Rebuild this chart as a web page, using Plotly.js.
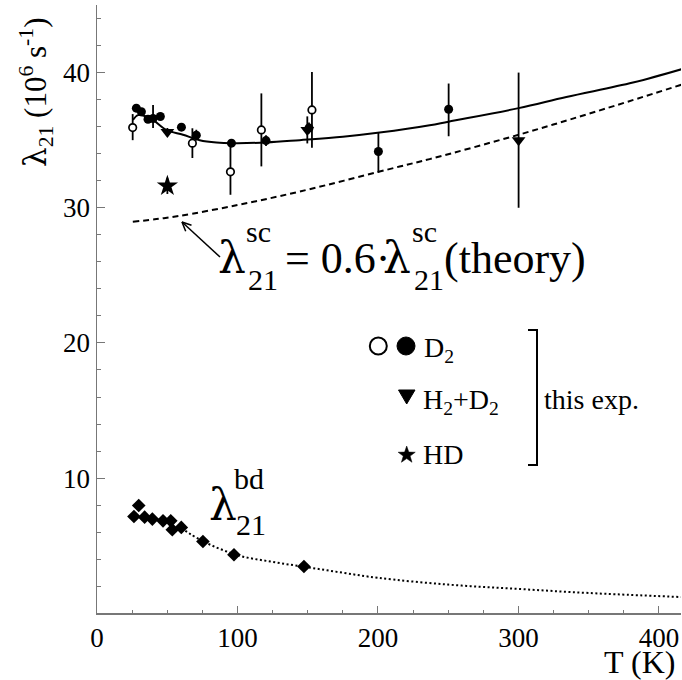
<!DOCTYPE html>
<html><head><meta charset="utf-8">
<script src="https://cdn.plot.ly/plotly-3.0.1.min.js"></script>
<style>html,body{margin:0;padding:0;background:#fff}</style>
</head><body>
<div id="chart" style="width:682px;height:680px"></div>
<script>
// ---- data ----
const d2OpenT   = [25.4, 67.9, 95.0, 117.0, 153.0];
const d2OpenL   = [35.93, 34.78, 32.66, 35.76, 37.24];
const d2OpenEp  = [1.0, 1.1, 2.1, 2.7, 2.8];
const d2OpenEm  = [0.93, 1.1, 1.7, 2.7, 2.8];

const d2FullT   = [28.0, 31.6, 36.3, 39.9, 45.1, 60.1, 70.7, 95.7, 120.3, 150.9, 200.3, 250.3];
const d2FullL   = [37.37, 37.1, 36.55, 36.6, 36.75, 35.96, 35.37, 34.78, 34.97, 35.9, 34.16, 37.29];
const d2FullEp  = [0.3, 0.2, 0.2, 1.0, 0.2, 0.2, 0.4, 0.2, 0.4, 0.4, 1.4, 1.9];
const d2FullEm  = [0.3, 0.2, 0.2, 0.7, 0.2, 0.2, 0.4, 0.2, 0.4, 0.4, 1.56, 2.0];

const h2d2T     = [50.1, 149.7, 300.1];
const h2d2L     = [35.6, 35.76, 35.0];
const h2d2E     = [0.3, 1.0, 5.0];

const hdT       = [50.1];
const hdL       = [31.62];
const hdE       = [0.6];

const bdT       = [26.3, 29.7, 33.9, 39.4, 47.0, 52.5, 53.6, 60.0, 75.4, 97.5, 147.3];
const bdL       = [7.16, 7.97, 7.11, 6.97, 6.84, 6.84, 6.18, 6.35, 5.31, 4.33, 3.46];

const fitT      = [25.6, 29.2, 35, 39.9, 49.4, 61.2, 73.1, 85.0, 96.8, 120.6, 144.3, 175, 201.2, 236.8, 250.1, 300.1, 334.1, 381.5, 416];
const fitL      = [36.5, 36.85, 36.75, 36.5, 35.76, 35.4, 35.0, 34.83, 34.78, 34.83, 35.0, 35.25, 35.56, 36.1, 36.37, 37.37, 38.2, 39.26, 40.25];

const scT       = [25.5, 42.3, 58.9, 100, 144.3, 215.4, 236.8, 300.1, 350, 416];
const scL       = [28.96, 29.16, 29.4, 30.2, 31.2, 33.05, 33.6, 35.4, 36.95, 39.1];

const bdLineT   = [60, 75, 100, 125, 150, 175, 200, 250, 300, 350, 416];
const bdLineL   = [6.3, 5.35, 4.3, 3.8, 3.4, 3.0, 2.62, 2.12, 1.8, 1.5, 1.2];

const xTickStep = 100, yTickStep = 10;

// ---- layout helpers (pixel -> paper) ----
const L = 97, R = 681, T0 = 5, B = 613;
const px = x => (x - L) / (R - L);
const py = y => (B - y) / (B - T0);
const FONT = 'Liberation Serif, Times New Roman, serif';
const GREEK = 'DejaVu Serif, Liberation Serif, serif';

function txt(text, x, y, size, xa, ya, angle, fam) {
  return {text: text, x: px(x), y: py(y), xref: 'paper', yref: 'paper',
    xanchor: xa || 'left', yanchor: ya || 'middle', showarrow: false,
    textangle: angle || 0, font: {family: fam || FONT, size: size, color: '#000'}};
}
function path(pts, close) {
  return pts.map((p, i) => (i ? 'L' : 'M') + px(p[0]) + ',' + py(p[1])).join(' ') + (close ? ' Z' : '');
}

const errStyle = {type: 'data', color: '#000', thickness: 1.8, width: 0, visible: true};

const traces = [
  {x: fitT, y: fitL, mode: 'lines', line: {color: '#000', width: 2, shape: 'spline'}, hoverinfo: 'skip'},
  {x: scT, y: scL, mode: 'lines', line: {color: '#000', width: 2, dash: '6px,4px', shape: 'spline'}, hoverinfo: 'skip'},
  {x: bdLineT, y: bdLineL, mode: 'lines', line: {color: '#000', width: 2, dash: '2px,2.5px', shape: 'spline'}, hoverinfo: 'skip'},
  {x: d2FullT, y: d2FullL, mode: 'markers', marker: {symbol: 'circle', size: 9, color: '#000'},
   error_y: Object.assign({array: d2FullEp, arrayminus: d2FullEm, symmetric: false}, errStyle)},
  {x: d2OpenT, y: d2OpenL, mode: 'markers', marker: {symbol: 'circle', size: 7.5, color: '#fff', line: {color: '#000', width: 1.7}},
   error_y: Object.assign({array: d2OpenEp, arrayminus: d2OpenEm, symmetric: false}, errStyle)},
  {x: h2d2T, y: h2d2L, mode: 'markers', marker: {symbol: 'triangle-down', size: 12, color: '#000'},
   error_y: Object.assign({array: h2d2E}, errStyle)},
  {x: hdT, y: hdL, mode: 'markers', marker: {symbol: 'star', size: 16, color: '#000'},
   error_y: Object.assign({array: hdE}, errStyle)},
  {x: bdT, y: bdL, mode: 'markers', marker: {symbol: 'diamond', size: 10.5, color: '#000'}}
];

// star for legend
function starPts(cx, cy, ro, ri) {
  const pts = [];
  for (let i = 0; i < 10; i++) {
    const a = -Math.PI / 2 + i * Math.PI / 5;
    const r = i % 2 ? ri : ro;
    pts.push([cx + r * Math.cos(a), cy + r * Math.sin(a)]);
  }
  return pts;
}

const shapes = [
  // legend symbols
  {type: 'circle', xref: 'paper', yref: 'paper', x0: px(369.8), x1: px(386.8), y0: py(354.5), y1: py(337.5),
   line: {color: '#000', width: 2}, fillcolor: '#fff'},
  {type: 'circle', xref: 'paper', yref: 'paper', x0: px(397), x1: px(415), y0: py(355), y1: py(337),
   line: {color: '#000', width: 1}, fillcolor: '#000'},
  {type: 'path', xref: 'paper', yref: 'paper', path: path([[398.5, 390], [415, 390], [406.7, 404]], true),
   line: {color: '#000', width: 1}, fillcolor: '#000'},
  {type: 'path', xref: 'paper', yref: 'paper', path: path(starPts(406.7, 455, 9, 3.6), true),
   line: {color: '#000', width: 0.5}, fillcolor: '#000'},
  // bracket
  {type: 'path', xref: 'paper', yref: 'paper', path: path([[528, 330], [537, 330], [537, 465], [528, 465]], false),
   line: {color: '#000', width: 2}},
  // arrow to the dashed curve
  {type: 'line', xref: 'paper', yref: 'paper', x0: px(220), y0: py(257), x1: px(182), y1: py(222), line: {color: '#000', width: 1.5}},
  {type: 'line', xref: 'paper', yref: 'paper', x0: px(182), y0: py(222), x1: px(185.7), y1: py(231.3), line: {color: '#000', width: 1.5}},
  {type: 'line', xref: 'paper', yref: 'paper', x0: px(182), y0: py(222), x1: px(191.5), y1: py(225.2), line: {color: '#000', width: 1.5}}
];

const annotations = [
  // formula
  txt('λ', 216, 257, 44, 'left', 'middle', 0, GREEK),
  txt('sc', 244, 231, 30),
  txt('21', 246, 279, 30),
  txt('= 0.6·', 283, 258, 44),
  txt('λ', 381, 257, 44, 'left', 'middle', 0, GREEK),
  txt('sc', 410, 231, 30),
  txt('21', 412, 279, 30),
  txt('(theory)', 442, 258, 44),
  // bd label
  txt('λ', 207, 504, 44, 'left', 'middle', 0, GREEK),
  txt('bd', 232, 478, 30),
  txt('21', 234, 524, 30),
  // legend texts
  txt('D<sub>2</sub>', 422, 350, 28),
  txt('H<sub>2</sub>+D<sub>2</sub>', 421, 401, 28),
  txt('HD', 421, 455, 28),
  txt('this exp.', 542, 399, 28),
  // axis titles
  txt('<span style="font-family:DejaVu Serif">λ</span><sub>21</sub> (10<sup>6</sup> s<sup>-1</sup>)', 36, 92, 31, 'center', 'middle', -90),
  txt('T (K)', 677, 662, 32, 'right', 'middle')
];

const layout = {
  width: 682, height: 680,
  margin: {l: L, r: 682 - R, t: T0, b: 680 - B},
  paper_bgcolor: '#fff', plot_bgcolor: '#fff',
  showlegend: false,
  font: {family: FONT, color: '#000'},
  xaxis: {range: [0, 415.7], tickmode: 'linear', tick0: 0, dtick: xTickStep,
    ticks: 'inside', ticklen: 7, tickwidth: 1, tickcolor: '#777',
    showline: true, linecolor: '#777', linewidth: 1.5, showgrid: false, zeroline: false,
    tickfont: {family: FONT, size: 27, color: '#000'},
    minor: {dtick: 25, ticks: 'inside', ticklen: 3.5, tickcolor: '#777', tickwidth: 1, showgrid: false}},
  yaxis: {range: [0.02, 45], tickmode: 'linear', tick0: 0, dtick: yTickStep,
    ticks: 'inside', ticklen: 8, tickwidth: 1, tickcolor: '#777',
    showline: true, linecolor: '#777', linewidth: 1.5, showgrid: false, zeroline: false,
    tickfont: {family: FONT, size: 27, color: '#000'},
    minor: {dtick: 2, ticks: 'inside', ticklen: 4, tickcolor: '#777', tickwidth: 1, showgrid: false}},
  shapes: shapes,
  annotations: annotations
};

Plotly.newPlot('chart', traces, layout, {staticPlot: true, displayModeBar: false});
</script>
</body></html>
